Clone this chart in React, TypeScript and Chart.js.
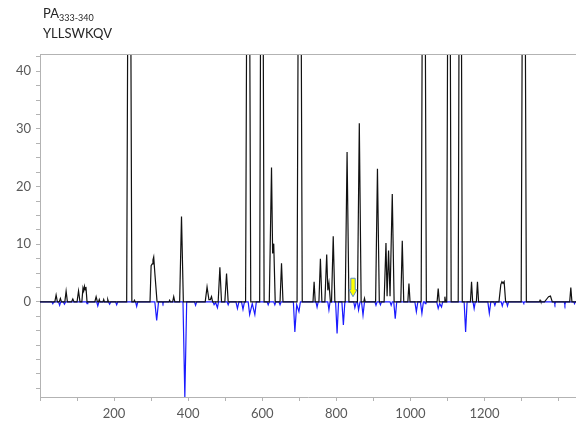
import React, { useEffect, useRef } from "react";
import { Chart, registerables } from "chart.js";

Chart.register(...registerables);

// Positive trace (black): x positions and intensities
const blackX = [
  0, 40, 43.5, 47, 52, 55, 58, 67, 70.5, 74, 85, 88.6, 92, 100, 104, 108,
  113, 116, 118, 120, 122, 124, 127, 148, 151.5, 155, 158, 160, 162, 170, 172, 174,
  181, 183, 185, 234, 241, 248, 253, 255, 257,
  297, 300, 303, 305, 307, 310, 316, 348, 350, 352, 358, 361, 364,
  377, 382, 387, 446, 451, 456, 460, 463, 466, 481, 485.6, 490, 499, 503.6, 508,
  555, 562, 569, 593, 599, 605, 619, 625, 628, 631, 635, 648, 652, 656,
  694, 701, 708, 737, 740, 743, 753, 757, 761, 769, 774, 777, 780, 784,
  787, 791.6, 796, 824, 829, 834, 857, 862, 867, 874, 876, 878,
  906, 911, 916, 929, 934, 937, 941, 945, 951, 956, 974, 978, 982, 993, 996, 999,
  1029, 1036, 1043, 1072, 1075, 1078, 1091, 1093, 1095, 1098, 1104, 1110,
  1129, 1134.5, 1140, 1162, 1165, 1168, 1178, 1181, 1184,
  1239, 1244, 1247, 1250, 1253, 1257, 1299, 1306, 1313, 1348, 1350, 1352,
  1362, 1368, 1373, 1378, 1383, 1430, 1433, 1436, 1447,
];
const blackY = [
  0, 0, 1.2, 0, 0, 0.6, 0, 0, 1.85, 0, 0, 0.5, 0, 0, 1.9, 0,
  0, 2.4, 1.9, 2.7, 2.1, 2.6, 0, 0, 0.9, 0, 0, 0.4, 0, 0, 0.4, 0,
  0, 0.4, 0, 0, 120, 0, 0, 0.3, 0,
  0, 6.3, 6.6, 7.3, 7.8, 5, 0, 0, 0.3, 0, 0, 0.9, 0,
  0, 14.8, 0, 0, 2.6, 0.4, 0.4, 0.9, 0, 0, 6, 0, 0, 4.9, 0,
  0, 120, 0, 0, 120, 0, 0, 23.3, 8.4, 10.1, 0, 0, 6.7, 0,
  0, 120, 0, 0, 3.5, 0, 0, 7.5, 0, 0, 8.2, 2, 3.3, 0,
  0, 11.4, 0, 0, 26, 0, 0, 31, 0, 0, 0.6, 0,
  0, 23.1, 0, 0, 10.2, 1, 8.9, 1, 18.7, 0, 0, 10.6, 0, 0, 3.2, 0,
  0, 120, 0, 0, 2.3, 0, 0, 0.9, 0, 0, 120, 0,
  0, 120, 0, 0, 3.5, 0, 0, 3.5, 0,
  0, 3, 3.5, 3.2, 3.5, 0, 0, 120, 0, 0, 0.3, 0,
  0, 0.5, 0.9, 1, 0, 0, 2.5, 0, 0,
];

// Negative trace (blue): x positions and intensities
const blueX = [
  0, 32, 34.6, 37, 50, 53, 56, 63, 66, 69, 125, 127, 129, 153, 156, 159,
  185, 188, 191, 204, 207, 210, 258, 261, 264, 310, 315, 320, 330, 332, 334,
  386, 391, 396, 417, 420, 423, 467, 470, 474, 479, 482, 505, 508, 511,
  529, 533, 537, 544, 548, 552, 562, 566, 573, 580, 584,
  613, 616, 619, 631, 634, 637, 645, 648, 651, 684, 688, 693, 699, 703,
  745, 748, 751, 777, 780, 783, 798, 802, 806, 815, 819, 823,
  847, 850, 854, 857, 860, 864, 868, 872, 876, 904, 907, 910, 916, 919, 922,
  945, 948, 951, 955, 959, 963, 1012, 1016, 1020, 1027, 1031, 1035, 1038, 1040, 1042,
  1071, 1075, 1079, 1084, 1087, 1145, 1149, 1153, 1169, 1172, 1175,
  1209, 1213, 1217, 1225, 1228, 1231, 1245, 1248, 1251, 1259, 1262, 1265,
  1304, 1306, 1308, 1388, 1390, 1392, 1415, 1417, 1419, 1441, 1443, 1445, 1447,
];
const blueY = [
  0, 0, -0.3, 0, 0, -0.6, 0, 0, -0.4, 0, 0, -0.3, 0, 0, -0.7, 0,
  0, -0.4, 0, 0, -0.5, 0, 0, -0.8, 0, 0, -3.2, 0, 0, -0.3, 0,
  0, -16.5, 0, 0, -0.6, 0, 0, -0.5, -0.1, -1, 0, 0, -0.5, 0,
  0, -1.15, 0, 0, -1.3, 0, 0, -2.2, -0.3, -2.2, 0,
  0, -0.5, 0, 0, -0.5, 0, 0, -0.5, 0, 0, -5.2, -0.5, -1.7, 0,
  0, -0.9, 0, 0, -1.4, 0, 0, -5.5, 0, 0, -4, 0,
  0, -1, 0, 0, -1.4, 0, 0, -2.3, 0, 0, -0.6, 0, 0, -0.5, 0,
  0, -0.6, 0, 0, -2.9, 0, 0, -1.7, 0, 0, -2, 0, 0, -0.3, 0,
  0, -1.15, -0.3, -0.9, 0, 0, -5.2, 0, 0, -1.15, 0,
  0, -2, 0, 0, -0.6, 0, 0, -0.7, 0, 0, -0.7, 0,
  0, -0.2, 0, 0, -0.4, 0, 0, -0.5, 0, 0, -0.3, 0, 0,
];

// Axis ticks
const xTickValues = [0, 100, 200, 300, 400, 500, 600, 700, 800, 900, 1000, 1100, 1200, 1300, 1400];
const xTickLabels = [200, 400, 600, 800, 1000, 1200];
const yTickValues = [-15, -12.5, -10, -7.5, -5, -2.5, 0, 2.5, 5, 7.5, 10, 12.5, 15, 17.5, 20, 22.5, 25, 27.5, 30, 32.5, 35, 37.5, 40, 42.5];
const yTickLabels = [0, 10, 20, 30, 40];

// Marker arrow position (x value, top and tip values)
const markerX = 845;
const markerTop = 4.1;
const markerTip = 0.9;

const AXIS_GREY = "#b3b3b3";
const TICK_FONT = { family: "Lato", size: 13 };

const topFrame = {
  id: "topFrame",
  afterDraw(chart: any) {
    const { ctx, chartArea } = chart;
    ctx.save();
    ctx.strokeStyle = AXIS_GREY;
    ctx.lineWidth = 1;
    ctx.beginPath();
    ctx.moveTo(chartArea.left, chartArea.top + 0.5);
    ctx.lineTo(chartArea.right, chartArea.top + 0.5);
    ctx.stroke();
    ctx.restore();
  },
};

const markerArrow = {
  id: "markerArrow",
  afterDatasetsDraw(chart: any) {
    const { ctx } = chart;
    const xs = chart.scales.x;
    const ys = chart.scales.y;
    const cx = xs.getPixelForValue(markerX);
    const top = ys.getPixelForValue(markerTop);
    const tip = ys.getPixelForValue(markerTip);
    const neck = top + (tip - top) * 0.62;
    ctx.save();
    ctx.beginPath();
    ctx.moveTo(cx - 2.2, top);
    ctx.lineTo(cx + 2.2, top);
    ctx.lineTo(cx + 2.2, neck);
    ctx.lineTo(cx + 4, neck);
    ctx.lineTo(cx, tip);
    ctx.lineTo(cx - 4, neck);
    ctx.lineTo(cx - 2.2, neck);
    ctx.closePath();
    ctx.fillStyle = "#ffff00";
    ctx.fill();
    ctx.strokeStyle = "#5b8fc7";
    ctx.lineWidth = 1;
    ctx.stroke();
    ctx.restore();
  },
};

export default function App() {
  const canvasRef = useRef<HTMLCanvasElement | null>(null);

  useEffect(() => {
    const canvas = canvasRef.current;
    if (!canvas) return;
    const blackPts = blackX.map((x, i) => ({ x, y: blackY[i] }));
    const bluePts = blueX.map((x, i) => ({ x, y: blueY[i] }));

    const chart = new Chart(canvas, {
      type: "line",
      data: {
        datasets: [
          {
            label: "positive",
            data: blackPts,
            borderColor: "#111111",
            borderWidth: 1.2,
            pointRadius: 0,
            tension: 0,
            fill: false,
          },
          {
            label: "negative",
            data: bluePts,
            borderColor: "#1a1aff",
            borderWidth: 1.2,
            pointRadius: 0,
            tension: 0,
            fill: false,
          },
        ],
      },
      options: {
        animation: false,
        responsive: false,
        maintainAspectRatio: false,
        layout: { padding: { top: 54, left: 0, right: 0, bottom: 0 } },
        plugins: {
          legend: { display: false },
          tooltip: { enabled: false },
          title: { display: false },
        },
        scales: {
          x: {
            type: "linear",
            min: 0,
            max: 1447,
            afterBuildTicks: (scale: any) => {
              scale.ticks = xTickValues.map((v) => ({ value: v }));
            },
            afterFit: (scale: any) => {
              scale.height = 31;
            },
            ticks: {
              autoSkip: false,
              maxRotation: 0,
              padding: 5,
              color: "#595959",
              font: TICK_FONT,
              callback: (v: any) => (xTickLabels.includes(Number(v)) ? String(v) : ""),
            },
            grid: { drawOnChartArea: false, drawTicks: true, tickLength: 4, color: AXIS_GREY },
            border: { color: AXIS_GREY, width: 1 },
          },
          y: {
            type: "linear",
            min: -16.5,
            max: 43,
            afterBuildTicks: (scale: any) => {
              scale.ticks = yTickValues.map((v) => ({ value: v }));
            },
            afterFit: (scale: any) => {
              scale.width = 40;
            },
            ticks: {
              autoSkip: false,
              padding: 5,
              color: "#595959",
              font: TICK_FONT,
              callback: (v: any) => (yTickLabels.includes(Number(v)) ? String(v) : ""),
            },
            grid: { drawOnChartArea: false, drawTicks: true, tickLength: 4, color: AXIS_GREY },
            border: { color: AXIS_GREY, width: 1 },
          },
        },
      },
      plugins: [topFrame, markerArrow],
    });

    return () => chart.destroy();
  }, []);

  return (
    <div style={{ position: "fixed", left: 0, top: 0, width: 576, height: 428, background: "#fff" }}>
      <canvas ref={canvasRef} width={576} height={428} style={{ display: "block", width: 576, height: 428 }} />
      <div
        style={{
          position: "absolute",
          left: 43,
          top: 4,
          fontFamily: "Lato",
          fontSize: 13,
          lineHeight: "18px",
          color: "#262626",
          whiteSpace: "nowrap",
        }}
      >
        <div>
          PA<span style={{ fontSize: 9, position: "relative", top: 3 }}>333-340</span>
        </div>
        <div>YLLSWKQV</div>
      </div>
    </div>
  );
}
